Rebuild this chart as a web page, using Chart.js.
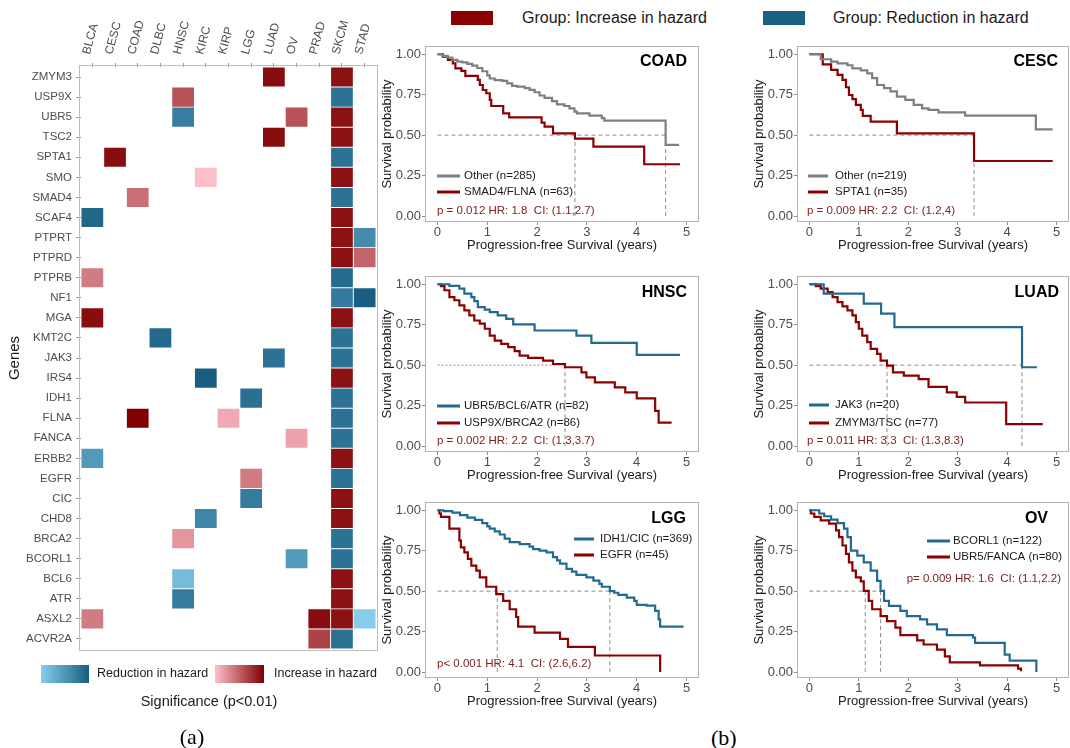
<!DOCTYPE html>
<html>
<head>
<meta charset="utf-8">
<title>Hazard heatmap and Kaplan-Meier curves</title>
<script src="https://cdn.jsdelivr.net/npm/chart.js@4.4.1/dist/chart.umd.min.js"></script>
<style>
html,body{margin:0;padding:0;background:#fff;}
body{width:1070px;height:748px;position:relative;overflow:hidden;font-family:"Liberation Sans",Arial,sans-serif;}
canvas{position:absolute;display:block;}
.grp{position:absolute;height:20px;line-height:20px;font-size:16px;color:#1a1a1a;white-space:nowrap;}
.sw{position:absolute;width:42px;height:14px;}
.pl{position:absolute;font-family:"Liberation Serif","Times New Roman",serif;font-size:22px;line-height:26px;color:#000;}
</style>
</head>
<body>
<canvas id="heat" width="380" height="748" style="left:0;top:0"></canvas>
<canvas id="coad" width="330" height="217" style="left:380px;top:36px"></canvas>
<canvas id="cesc" width="318" height="217" style="left:752px;top:36px"></canvas>
<canvas id="hnsc" width="330" height="217" style="left:380px;top:266px"></canvas>
<canvas id="luad" width="318" height="217" style="left:752px;top:266px"></canvas>
<canvas id="lgg" width="330" height="217" style="left:380px;top:492px"></canvas>
<canvas id="ov" width="318" height="217" style="left:752px;top:492px"></canvas>
<div class="sw" style="left:451px;top:11px;background:#8b0000"></div>
<div class="grp" style="left:522px;top:8px">Group: Increase in hazard</div>
<div class="sw" style="left:763px;top:11px;background:#1b6185"></div>
<div class="grp" style="left:833px;top:8px">Group: Reduction in hazard</div>
<div class="pl" style="left:711px;top:725px">(b)</div>
<script>
// ---------------- heatmap data ----------------
const cancers = ["BLCA","CESC","COAD","DLBC","HNSC","KIRC","KIRP","LGG","LUAD","OV","PRAD","SKCM","STAD"];
const genes = ["ZMYM3","USP9X","UBR5","TSC2","SPTA1","SMO","SMAD4","SCAF4","PTPRT","PTPRD","PTPRB","NF1","MGA",
  "KMT2C","JAK3","IRS4","IDH1","FLNA","FANCA","ERBB2","EGFR","CIC","CHD8","BRCA2","BCORL1","BCL6","ATR","ASXL2","ACVR2A"];
const _ = null;
// + = increase in hazard, - = reduction in hazard; magnitude = colour intensity
const hazardRows = [
  [_,_,_,_,_,_,_,_,0.93,_,_,0.91,_],      // ZMYM3
  [_,_,_,_,0.57,_,_,_,_,_,_,-0.82,_],     // USP9X
  [_,_,_,_,-0.71,_,_,_,_,0.57,_,0.91,_],  // UBR5
  [_,_,_,_,_,_,_,_,0.93,_,_,0.91,_],      // TSC2
  [_,0.93,_,_,_,_,_,_,_,_,_,-0.82,_],     // SPTA1
  [_,_,_,_,_,0.01,_,_,_,_,_,0.91,_],      // SMO
  [_,_,0.42,_,_,_,_,_,_,_,_,-0.82,_],     // SMAD4
  [-0.92,_,_,_,_,_,_,_,_,_,_,0.91,_],     // SCAF4
  [_,_,_,_,_,_,_,_,_,_,_,0.91,-0.6],      // PTPRT
  [_,_,_,_,_,_,_,_,_,_,_,0.91,0.47],      // PTPRD
  [0.36,_,_,_,_,_,_,_,_,_,_,-0.88,_],     // PTPRB
  [_,_,_,_,_,_,_,_,_,_,_,-0.75,-1],       // NF1
  [0.93,_,_,_,_,_,_,_,_,_,_,0.91,_],      // MGA
  [_,_,_,-0.9,_,_,_,_,_,_,_,-0.82,_],     // KMT2C
  [_,_,_,_,_,_,_,_,-0.82,_,_,-0.82,_],    // JAK3
  [_,_,_,_,_,-1,_,_,_,_,_,0.91,_],        // IRS4
  [_,_,_,_,_,_,_,-0.84,_,_,_,-0.82,_],    // IDH1
  [_,_,1,_,_,_,0.12,_,_,_,_,-0.82,_],     // FLNA
  [_,_,_,_,_,_,_,_,_,0.15,_,-0.82,_],     // FANCA
  [-0.47,_,_,_,_,_,_,_,_,_,_,0.91,_],     // ERBB2
  [_,_,_,_,_,_,_,0.36,_,_,_,-0.82,_],     // EGFR
  [_,_,_,_,_,_,_,-0.74,_,_,_,0.91,_],     // CIC
  [_,_,_,_,_,-0.64,_,_,_,_,_,0.91,_],     // CHD8
  [_,_,_,_,0.22,_,_,_,_,_,_,-0.82,_],     // BRCA2
  [_,_,_,_,_,_,_,_,_,-0.47,_,-0.82,_],    // BCORL1
  [_,_,_,_,-0.16,_,_,_,_,_,_,0.91,_],     // BCL6
  [_,_,_,_,-0.74,_,_,_,_,_,_,0.91,_],     // ATR
  [0.36,_,_,_,_,_,_,_,_,_,0.93,0.91,-0.01], // ASXL2
  [_,_,_,_,_,_,_,_,_,_,0.65,-0.82,_]      // ACVR2A
];

// ---------------- Kaplan-Meier data: [time (years), survival] ----------------
const coadOther = [[0,1],[0.1,0.99],[0.2,0.98],[0.3,0.965],[0.4,0.955],[0.5,0.95],[0.6,0.94],[0.7,0.93],[0.8,0.915],[0.9,0.895],[1.0,0.87],[1.05,0.85],[1.15,0.84],[1.3,0.835],[1.4,0.82],[1.5,0.805],[1.6,0.8],[1.75,0.79],[1.85,0.78],[1.95,0.765],[2.05,0.745],[2.15,0.73],[2.3,0.71],[2.4,0.69],[2.55,0.68],[2.65,0.665],[2.75,0.645],[2.8,0.635],[3.05,0.62],[3.3,0.605],[3.35,0.59],[4.58,0.44],[4.85,0.44]];
const coadMut = [[0,1],[0.11,0.985],[0.21,0.965],[0.31,0.944],[0.36,0.913],[0.48,0.897],[0.56,0.866],[0.81,0.841],[0.85,0.81],[0.91,0.779],[0.98,0.759],[1.05,0.718],[1.08,0.68],[1.32,0.635],[1.44,0.61],[2.09,0.577],[2.15,0.553],[2.32,0.511],[2.76,0.478],[3.13,0.429],[4.15,0.32],[4.87,0.32]];
const coadMedians = [2.76, 4.58];
const coadGroups = ["Other (n=285)", "SMAD4/FLNA (n=63)"];
const coadStats = "p = 0.012 HR: 1.8  CI: (1.1,2.7)";

const cescOther = [[0,1],[0.23,0.969],[0.44,0.955],[0.57,0.944],[0.77,0.932],[0.87,0.913],[1.04,0.9],[1.17,0.882],[1.27,0.852],[1.37,0.81],[1.51,0.79],[1.64,0.77],[1.77,0.738],[1.94,0.718],[2.11,0.687],[2.28,0.666],[2.41,0.656],[2.61,0.641],[3.15,0.62],[4.58,0.536],[4.92,0.536]];
const cescMut = [[0,1],[0.27,0.938],[0.44,0.903],[0.57,0.872],[0.67,0.841],[0.74,0.796],[0.8,0.748],[0.87,0.722],[0.94,0.687],[1.04,0.656],[1.08,0.619],[1.24,0.584],[1.77,0.511],[3.33,0.34],[4.92,0.34]];
const cescMedians = [3.33];
const cescGroups = ["Other (n=219)", "SPTA1 (n=35)"];
const cescStats = "p = 0.009 HR: 2.2  CI: (1.2,4)";

const hnscReduce = [[0,1],[0.24,0.99],[0.44,0.973],[0.54,0.942],[0.68,0.921],[0.74,0.896],[0.81,0.859],[0.95,0.843],[1.05,0.828],[1.21,0.807],[1.38,0.786],[1.52,0.752],[1.95,0.714],[2.79,0.683],[3.09,0.638],[4.0,0.563],[4.87,0.563]];
const hnscIncrease = [[0,1],[0.07,0.988],[0.14,0.963],[0.24,0.921],[0.34,0.901],[0.44,0.87],[0.54,0.839],[0.64,0.807],[0.74,0.776],[0.85,0.756],[0.95,0.725],[1.05,0.683],[1.15,0.652],[1.28,0.631],[1.42,0.611],[1.55,0.586],[1.65,0.559],[1.82,0.545],[2.12,0.528],[2.32,0.507],[2.56,0.487],[2.89,0.455],[2.99,0.424],[3.16,0.393],[3.56,0.362],[3.77,0.331],[4.0,0.294],[4.37,0.217],[4.44,0.145],[4.7,0.145]];
const hnscMedians = [2.56];
const hnscGroups = ["UBR5/BCL6/ATR (n=82)", "USP9X/BRCA2 (n=86)"];
const hnscStats = "p = 0.002 HR: 2.2  CI: (1.3,3.7)";

const luadReduce = [[0,1],[0.29,0.942],[1.1,0.88],[1.45,0.818],[1.72,0.735],[4.3,0.487],[4.6,0.487]];
const luadIncrease = [[0,1],[0.13,0.988],[0.23,0.973],[0.37,0.952],[0.47,0.921],[0.57,0.89],[0.67,0.863],[0.77,0.838],[0.87,0.807],[0.94,0.766],[1.0,0.725],[1.07,0.683],[1.17,0.642],[1.24,0.6],[1.37,0.569],[1.44,0.528],[1.57,0.497],[1.69,0.455],[1.91,0.435],[2.21,0.414],[2.41,0.366],[2.78,0.331],[2.98,0.304],[3.15,0.269],[3.98,0.135],[4.72,0.135]];
const luadMedians = [1.57, 4.3];
const luadGroups = ["JAK3 (n=20)", "ZMYM3/TSC (n=77)"];
const luadStats = "p = 0.011 HR: 3.3  CI: (1.3,8.3)";

const lggReduce = [[0,1],[0.12,0.995],[0.3,0.985],[0.45,0.97],[0.6,0.955],[0.75,0.94],[0.9,0.92],[1.0,0.9],[1.05,0.886],[1.15,0.87],[1.25,0.85],[1.35,0.824],[1.45,0.803],[1.65,0.79],[1.85,0.775],[1.92,0.76],[2.05,0.75],[2.19,0.74],[2.32,0.71],[2.4,0.69],[2.46,0.67],[2.59,0.637],[2.7,0.62],[2.79,0.6],[2.99,0.585],[3.13,0.565],[3.25,0.545],[3.3,0.527],[3.46,0.5],[3.55,0.49],[3.63,0.477],[3.8,0.46],[3.95,0.44],[4.0,0.415],[4.2,0.41],[4.37,0.378],[4.44,0.326],[4.47,0.28],[4.94,0.28]];
const lggIncrease = [[0,1],[0.04,0.98],[0.07,0.959],[0.24,0.886],[0.44,0.813],[0.47,0.77],[0.54,0.74],[0.61,0.699],[0.68,0.658],[0.78,0.627],[0.85,0.585],[0.98,0.527],[1.18,0.481],[1.32,0.44],[1.45,0.388],[1.58,0.34],[1.62,0.28],[1.95,0.243],[2.46,0.205],[2.62,0.156],[3.16,0.102],[4.47,0.0]];
const lggMedians = [1.2, 3.46];
const lggGroups = ["IDH1/CIC (n=369)", "EGFR (n=45)"];
const lggStats = "p< 0.001 HR: 4.1  CI: (2.6,6.2)";

const ovReduce = [[0,1],[0.2,0.98],[0.3,0.963],[0.44,0.942],[0.57,0.921],[0.7,0.886],[0.77,0.834],[0.84,0.751],[0.97,0.72],[1.1,0.678],[1.24,0.627],[1.37,0.564],[1.44,0.502],[1.51,0.44],[1.61,0.409],[1.84,0.378],[1.97,0.346],[2.24,0.326],[2.38,0.295],[2.58,0.263],[2.78,0.228],[3.31,0.212],[3.35,0.18],[3.95,0.108],[4.05,0.07],[4.59,0.0]];
const ovIncrease = [[0,1],[0.03,0.98],[0.1,0.959],[0.23,0.938],[0.4,0.917],[0.54,0.876],[0.6,0.834],[0.67,0.782],[0.74,0.73],[0.8,0.678],[0.87,0.627],[0.94,0.585],[1.04,0.56],[1.1,0.502],[1.2,0.44],[1.27,0.388],[1.44,0.346],[1.57,0.315],[1.74,0.274],[1.84,0.228],[2.18,0.195],[2.31,0.17],[2.58,0.139],[2.74,0.097],[2.84,0.06],[3.45,0.041],[4.22,0.021],[4.28,0.005]];
const ovMedians = [1.13, 1.44];
const ovGroups = ["BCORL1 (n=122)", "UBR5/FANCA (n=80)"];
const ovStats = "p= 0.009 HR: 1.6  CI: (1.1,2.2)";

const xTicks = [0,1,2,3,4,5];
const yTicks = [0,0.25,0.5,0.75,1];

// ---------------- styles ----------------
Chart.defaults.font.family = '"Liberation Sans", Arial, sans-serif';
const GREY = '#7f7f7f', RED = '#8b0000', BLUE = '#236a90';
const SKY = [135,206,235], NAVY = [24,94,130], PINK = [255,192,203], MAROON = [128,0,0];
function mix(a, b, t) {
  return 'rgb(' + a.map((v, i) => Math.round(v + (b[i] - v) * t)).join(',') + ')';
}
function hazardColor(v) {
  if (v === null || v === undefined) return 'rgba(0,0,0,0)';
  return v >= 0 ? mix(PINK, MAROON, v) : mix(SKY, NAVY, -v);
}

// ---------------- heatmap ----------------
const heatDecor = {
  id: 'heatDecor',
  afterDraw(chart) {
    const ctx = chart.ctx, a = chart.chartArea;
    ctx.save();
    ctx.strokeStyle = '#bdbdbd'; ctx.lineWidth = 1;
    ctx.strokeRect(Math.round(a.left) - 1.5, Math.round(a.top) - 1.5, Math.round(a.right - a.left) + 3, Math.round(a.bottom - a.top) + 3);
    let g = ctx.createLinearGradient(41, 0, 89, 0);
    g.addColorStop(0, mix(SKY, SKY, 0)); g.addColorStop(1, mix(NAVY, NAVY, 0));
    ctx.fillStyle = g; ctx.fillRect(41, 665, 48, 18);
    g = ctx.createLinearGradient(215, 0, 264, 0);
    g.addColorStop(0, mix(PINK, PINK, 0)); g.addColorStop(1, mix(MAROON, MAROON, 0));
    ctx.fillStyle = g; ctx.fillRect(215, 665, 49, 18);
    ctx.fillStyle = '#1a1a1a'; ctx.textBaseline = 'middle'; ctx.textAlign = 'left';
    ctx.font = '12.5px "Liberation Sans", Arial, sans-serif';
    ctx.fillText('Reduction in hazard', 97, 674);
    ctx.fillText('Increase in hazard', 274, 674);
    ctx.textAlign = 'center';
    ctx.font = '14.5px "Liberation Sans", Arial, sans-serif';
    ctx.fillText('Significance (p<0.01)', 209, 702);
    ctx.fillStyle = '#000';
    ctx.font = '22px "Liberation Serif", "Times New Roman", serif';
    ctx.fillText('(a)', 192, 738);
    ctx.restore();
  }
};

new Chart(document.getElementById('heat'), {
  type: 'bar',
  data: {
    labels: genes,
    datasets: cancers.map((c, ci) => ({
      label: c,
      data: genes.map((g, gi) => hazardRows[gi][ci] === null ? null : [ci, ci + 1]),
      backgroundColor: genes.map((g, gi) => hazardColor(hazardRows[gi][ci])),
      borderColor: 'rgba(255,255,255,0.3)',
      borderWidth: 0.8,
      borderSkipped: false,
      grouped: false,
      barPercentage: 1,
      categoryPercentage: 1
    }))
  },
  options: {
    indexAxis: 'y',
    responsive: false, animation: false, devicePixelRatio: 1,
    layout: { padding: { left: 0, top: 0, right: 4, bottom: 99 } },
    plugins: { legend: { display: false }, tooltip: { enabled: false } },
    scales: {
      x: {
        type: 'linear', position: 'top', min: 0, max: cancers.length,
        afterBuildTicks: s => { s.ticks = cancers.map((c, i) => ({ value: i + 0.5 })); },
        ticks: { autoSkip: false, minRotation: 75, maxRotation: 75, padding: 7, labelOffset: 8, color: '#4d4d4d',
                 font: { size: 12 }, callback: v => cancers[Math.floor(v)] },
        grid: { drawOnChartArea: false, tickLength: 4, color: '#999' },
        border: { display: false },
        afterFit: s => { s.height = 67; }
      },
      y: {
        type: 'category',
        ticks: { autoSkip: false, padding: 4, color: '#4d4d4d', font: { size: 11.5 } },
        grid: { drawOnChartArea: false, tickLength: 5, color: '#999', offset: false },
        border: { display: false },
        title: { display: true, text: 'Genes', color: '#1a1a1a', font: { size: 15 }, padding: { top: 6, bottom: 0 } },
        afterFit: s => { s.width = 81; }
      }
    }
  },
  plugins: [heatDecor]
});

// ---------------- Kaplan-Meier panels ----------------
const decor = {
  coad: { title: 'COAD', tR: 12, tY: 16, groups: coadGroups, colors: [GREY, RED], lx0: 12, lx1: 35, tx: 39, ly: [130, 146], stats: coadStats, px: 12, py: 165, pAlign: 'left' },
  cesc: { title: 'CESC', tR: 11, tY: 16, groups: cescGroups, colors: [GREY, RED], lx0: 11, lx1: 31, tx: 38, ly: [130, 146], stats: cescStats, px: 10, py: 165, pAlign: 'left' },
  hnsc: { title: 'HNSC', tR: 12, tY: 17, groups: hnscGroups, colors: [BLUE, RED], lx0: 12, lx1: 35, tx: 39, ly: [130, 147], stats: hnscStats, px: 12, py: 165, pAlign: 'left' },
  luad: { title: 'LUAD', tR: 10, tY: 17, groups: luadGroups, colors: [BLUE, RED], lx0: 12, lx1: 32, tx: 38, ly: [129, 147], stats: luadStats, px: 10, py: 165, pAlign: 'left' },
  lgg:  { title: 'LGG', tR: 13, tY: 17, groups: lggGroups, colors: [BLUE, RED], lx0: 149, lx1: 169, tx: 175, ly: [37, 53], stats: lggStats, px: 12, py: 162, pAlign: 'left' },
  ov:   { title: 'OV', tR: 21, tY: 17, groups: ovGroups, colors: [BLUE, RED], lx0: 130, lx1: 153, tx: 156, ly: [39, 55], stats: ovStats, px: 264, py: 77, pAlign: 'right' }
};

const kmDecor = {
  id: 'kmDecor',
  afterDraw(chart) {
    const d = decor[chart.canvas.id];
    if (!d) return;
    const ctx = chart.ctx, a = chart.chartArea;
    ctx.save();
    ctx.strokeStyle = '#b3b3b3'; ctx.lineWidth = 1;
    ctx.strokeRect(Math.round(a.left) + 0.5, Math.round(a.top) + 0.5, Math.round(a.right - a.left) - 1, Math.round(a.bottom - a.top) - 1);
    ctx.textBaseline = 'middle';
    ctx.fillStyle = '#000'; ctx.textAlign = 'right';
    ctx.font = 'bold 16px "Liberation Sans", Arial, sans-serif';
    ctx.fillText(d.title, a.right - d.tR, a.top + d.tY);
    ctx.font = '11.5px "Liberation Sans", Arial, sans-serif';
    ctx.textAlign = 'left';
    d.groups.forEach((txt, i) => {
      const y = a.top + d.ly[i];
      ctx.strokeStyle = d.colors[i]; ctx.lineWidth = 3;
      ctx.beginPath(); ctx.moveTo(a.left + d.lx0, y); ctx.lineTo(a.left + d.lx1, y); ctx.stroke();
      ctx.fillStyle = '#1a1a1a';
      ctx.fillText(txt, a.left + d.tx, y);
    });
    ctx.fillStyle = '#7a2424';
    ctx.textAlign = d.pAlign;
    ctx.fillText(d.stats, a.left + d.px, a.top + d.py);
    ctx.restore();
  }
};

function dashSet(pts, dash) {
  return { data: pts.map(([x, y]) => ({ x, y })), borderColor: '#8c8c8c', borderWidth: 1, borderDash: dash || [4, 3],
           pointRadius: 0, stepped: false, fill: false, order: 1 };
}

function kmChart(id, curves, medians, rightPad, hDash) {
  const d = decor[id];
  const datasets = curves.map((c, i) => ({
    data: c.map(([x, y]) => ({ x, y })), borderColor: d.colors[i], borderWidth: 2.2,
    stepped: true, pointRadius: 0, fill: false, order: 0
  }));
  const mMax = Math.max(...medians);
  datasets.push(dashSet([[0, 0.5], [mMax, 0.5]], hDash));
  medians.forEach(m => datasets.push(dashSet([[m, 0.5], [m, 0]])));
  new Chart(document.getElementById(id), {
    type: 'line',
    data: { datasets },
    options: {
      responsive: false, animation: false, devicePixelRatio: 1,
      layout: { padding: { left: 0, right: rightPad, top: 10, bottom: 0 } },
      plugins: { legend: { display: false }, tooltip: { enabled: false } },
      scales: {
        x: {
          type: 'linear', min: -0.25, max: 5.25,
          afterBuildTicks: s => { s.ticks = xTicks.map(v => ({ value: v })); },
          ticks: { color: '#4d4d4d', font: { size: 13 }, padding: 0, maxRotation: 0, autoSkip: false, callback: v => String(v) },
          grid: { drawOnChartArea: false, tickLength: 3, color: '#8c8c8c' },
          border: { display: false },
          title: { display: true, text: 'Progression-free Survival (years)', color: '#1a1a1a', font: { size: 13 }, padding: 0 },
          afterFit: s => { s.height = 31; }
        },
        y: {
          type: 'linear', min: -0.037, max: 1.051,
          afterBuildTicks: s => { s.ticks = yTicks.map(v => ({ value: v })); },
          ticks: { color: '#4d4d4d', font: { size: 13 }, padding: 1, autoSkip: false, callback: v => v.toFixed(2) },
          grid: { drawOnChartArea: false, tickLength: 3, color: '#8c8c8c' },
          border: { display: false },
          title: { display: true, text: 'Survival probability', color: '#1a1a1a', font: { size: 13 }, padding: 0 },
          afterFit: s => { s.width = 45; }
        }
      }
    },
    plugins: [kmDecor]
  });
}

kmChart('coad', [coadOther, coadMut], coadMedians, 11);
kmChart('cesc', [cescOther, cescMut], cescMedians, 1);
kmChart('hnsc', [hnscReduce, hnscIncrease], hnscMedians, 11, [2, 2]);
kmChart('luad', [luadReduce, luadIncrease], luadMedians, 1);
kmChart('lgg', [lggReduce, lggIncrease], lggMedians, 11);
kmChart('ov', [ovReduce, ovIncrease], ovMedians, 1);
</script>
</body>
</html>
